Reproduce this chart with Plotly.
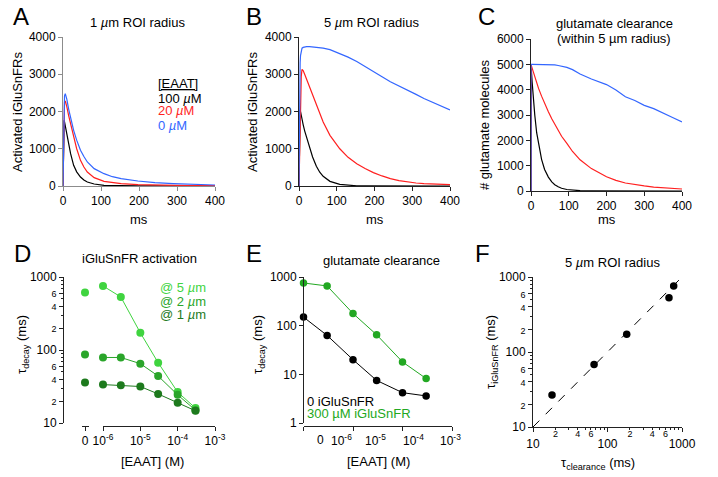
import plotly.graph_objects as go

W, H = 718, 477
def px(v): return v / W
def py(v): return 1 - v / H

FONT = 'Liberation Sans, Arial, Helvetica, sans-serif'
BLACK = '#000000'; RED = '#ff1f1f'; BLUE = '#3366ff'
G5 = '#3fd43f'; G2 = '#2aa52a'; G1 = '#1d7a1d'; GE = '#22a822'
AX_A = '#8c8c8c'; AX = '#222222'

# ---------------- data ----------------
# Panel A: 1 um ROI, activated iGluSnFRs vs time (ms)
T_A = [0, 1, 2, 3, 4, 6, 8, 10, 15, 20, 28, 36, 46, 55, 64, 82, 108, 130, 153, 197, 242, 290, 331, 400]
A_EAAT0 = [0, 900, 1800, 2250, 2420, 2480, 2420, 2330, 2060, 1820, 1495, 1230, 958, 790, 645, 466, 331, 250, 197, 134, 90, 65, 45, 27]
A_EAAT20 = [0, 800, 1600, 2100, 2250, 2283, 2220, 2130, 1880, 1650, 1316, 1000, 689, 510, 376, 224, 125, 90, 63, 35, 22, 15, 12, 8]
A_EAAT100 = [0, 1000, 1600, 1764, 1720, 1600, 1480, 1370, 1100, 868, 555, 380, 242, 160, 107, 54, 18, 10, 5, 2, 1, 0, 0, 0]

# Panel B: 5 um ROI
T_B = [0, 1, 2, 3, 4, 6, 8, 11, 15, 20, 28, 36, 46, 55, 64, 82, 108, 130, 153, 175, 197, 220, 242, 265, 286, 310, 331, 365, 400]
B_EAAT0 = [0, 2000, 2900, 3300, 3500, 3650, 3700, 3720, 3735, 3740, 3740, 3735, 3730, 3720, 3700, 3660, 3560, 3460, 3340, 3200, 3065, 2930, 2800, 2690, 2575, 2460, 2350, 2200, 2040]
B_EAAT20 = [0, 600, 1300, 2000, 2500, 2950, 3130, 3100, 3000, 2870, 2650, 2430, 2150, 1920, 1720, 1360, 1000, 770, 600, 470, 358, 270, 197, 145, 107, 80, 63, 48, 36]
B_EAAT100 = [0, 1200, 1900, 2050, 2000, 1880, 1780, 1650, 1480, 1300, 1020, 780, 530, 370, 260, 125, 42, 16, 6, 2, 1, 0, 0, 0, 0, 0, 0, 0, 0]

# Panel C: glutamate molecules within 5 um
T_C = [0, 0, 3, 6, 10, 15, 20, 28, 36, 46, 55, 63, 72, 81, 95, 110, 130, 160, 200, 225, 250, 275, 300, 325, 350, 375, 400]
C_EAAT0 = [0, 5000, 5000, 5000, 5000, 5000, 5000, 5000, 5000, 4995, 4990, 4980, 4955, 4930, 4880, 4790, 4620, 4420, 4200, 3990, 3720, 3570, 3380, 3250, 3060, 2900, 2730]
C_EAAT20 = [0, 5000, 4850, 4700, 4500, 4280, 4050, 3745, 3450, 3130, 2850, 2620, 2380, 2160, 1880, 1560, 1230, 884, 560, 420, 315, 250, 200, 155, 120, 98, 78]
C_EAAT100 = [0, 5000, 4300, 3700, 3000, 2300, 1850, 1250, 850, 550, 360, 250, 170, 110, 60, 30, 12, 4, 0, 0, 0, 0, 0, 0, 0, 0, 0]

# Panel D: iGluSnFR activation tau (ms) vs [EAAT] (M)
EAAT_D = [0, 1e-6, 3e-6, 1e-5, 3e-5, 1e-4, 3e-4]
TAU_D_5UM = [611, 754, 533, 172, 67, 26.5, 16]
TAU_D_2UM = [87, 79, 79, 65, 44, 24.3, 15]
TAU_D_1UM = [36, 33.6, 33, 31.6, 25, 19, 14.7]

# Panel E: glutamate clearance tau (ms) vs [EAAT] (M)
EAAT_E = [1e-6, 3e-6, 1e-5, 3e-5, 1e-4, 3e-4]
TAU_E_0 = [150, 63, 20, 7.5, 4.2, 3.6]
TAU_E_300 = [754, 655, 178, 65, 18, 8.2]

# Panel F
TAU_CLEAR = [18, 66, 181, 669, 773]
TAU_IGLU = [26.7, 68, 172, 529, 759]
IDENTITY = [10, 1000]

# tick labels
LIN_X = [0, 100, 200, 300, 400]
EAAT_TICKS = [1e-6, 1e-5, 1e-4, 1e-3]
EAAT_TEXT = ['10<sup>-6</sup>', '10<sup>-5</sup>', '10<sup>-4</sup>', '10<sup>-3</sup>']
LOG2_TICKS = [10, 20, 40, 60, 100, 200, 400, 600, 1000]
LOG2_MINOR = [30, 50, 70, 80, 90, 300, 500, 700, 800, 900]
def small(s): return '<span style="font-size:9px">%s</span>' % s
LOG2_TEXT = ['10', small('2'), small('4'), small('6'), '100', small('2'), small('4'), small('6'), '1000']

# ---------------- figure ----------------
fig = go.Figure()

def curve(x, y, color, xa, ya, width=1.2):
    fig.add_trace(go.Scatter(x=x, y=y, mode='lines', line=dict(color=color, width=width),
                             xaxis=xa, yaxis=ya, showlegend=False, hoverinfo='skip', cliponaxis=False))

def points(x, y, color, xa, ya, size=8, lines=True):
    fig.add_trace(go.Scatter(x=x, y=y, mode='lines+markers' if lines else 'markers',
                             line=dict(color=color, width=1), marker=dict(color=color, size=size),
                             xaxis=xa, yaxis=ya, showlegend=False, hoverinfo='skip', cliponaxis=False))

for ys, c in [(A_EAAT100, BLACK), (A_EAAT20, RED), (A_EAAT0, BLUE)]:
    curve(T_A, ys, c, 'x', 'y')
for ys, c in [(B_EAAT100, BLACK), (B_EAAT20, RED), (B_EAAT0, BLUE)]:
    curve(T_B, ys, c, 'x2', 'y2')
for ys, c in [(C_EAAT100, BLACK), (C_EAAT20, RED), (C_EAAT0, BLUE)]:
    curve(T_C, ys, c, 'x3', 'y3')

nz = [i for i, e in enumerate(EAAT_D) if e > 0]
z = [i for i, e in enumerate(EAAT_D) if e == 0]
for ys, c in [(TAU_D_5UM, G5), (TAU_D_2UM, G2), (TAU_D_1UM, G1)]:
    points([EAAT_D[i] for i in nz], [ys[i] for i in nz], c, 'x4', 'y4')
    points([EAAT_D[i] for i in z], [ys[i] for i in z], c, 'x7', 'y4', lines=False)

points(EAAT_E, TAU_E_0, BLACK, 'x5', 'y5', size=7.5)
points(EAAT_E, TAU_E_300, GE, 'x5', 'y5', size=7.5)

fig.add_trace(go.Scatter(x=IDENTITY, y=IDENTITY, mode='lines', line=dict(color='black', width=1, dash='dash'),
                         xaxis='x8', yaxis='y6', showlegend=False, hoverinfo='skip'))
points(TAU_CLEAR, TAU_IGLU, BLACK, 'x6', 'y6', size=7.5, lines=False)

def ax(**kw):
    d = dict(showgrid=False, zeroline=False, showline=True, linecolor=AX, linewidth=1,
             ticks='outside', ticklen=4, tickwidth=1, tickcolor=AX,
             tickfont=dict(family=FONT, size=12, color='black'), automargin=False, fixedrange=True)
    d.update(kw)
    return d

layout = dict(
    xaxis=ax(domain=[px(63), px(215)], range=[0, 400], tickvals=LIN_X, anchor='y', linecolor=AX_A, tickcolor=AX_A),
    yaxis=ax(domain=[py(186), py(37)], range=[0, 4000], tickvals=[0, 1000, 2000, 3000, 4000], anchor='x', linecolor=AX_A, tickcolor=AX_A),
    xaxis2=ax(domain=[px(299), px(450)], range=[0, 400], tickvals=LIN_X, anchor='y2'),
    yaxis2=ax(domain=[py(186), py(37)], range=[0, 4000], tickvals=[0, 1000, 2000, 3000, 4000], anchor='x2'),
    xaxis3=ax(domain=[px(531), px(682)], range=[0, 400], tickvals=LIN_X, anchor='y3'),
    yaxis3=ax(domain=[py(191), py(39)], range=[0, 6000], tickvals=[0, 1000, 2000, 3000, 4000, 5000, 6000], anchor='x3'),
    xaxis4=ax(type='log', domain=[px(103), px(215)], range=[-6, -3], tickvals=EAAT_TICKS, ticktext=EAAT_TEXT,
              anchor='free', position=py(426)),
    xaxis7=ax(domain=[px(81.5), px(88.5)], range=[-1, 1], tickvals=[0], ticktext=['0'], anchor='free', position=py(426)),
    yaxis4=ax(type='log', domain=[py(423), py(277)], range=[1, 3], tickvals=LOG2_TICKS, ticktext=LOG2_TEXT,
              anchor='free', position=px(63), minor=dict(tickvals=LOG2_MINOR, ticklen=2, ticks='outside', tickcolor=AX)),
    xaxis5=ax(type='log', domain=[px(303.5), px(452)], range=[-6, -3], tickvals=EAAT_TICKS, showticklabels=False,
              anchor='free', position=py(426)),
    yaxis5=ax(type='log', domain=[py(423), py(277)], range=[0, 3], tickvals=[1, 10, 100, 1000],
              anchor='free', position=px(303)),
    xaxis6=ax(type='log', domain=[px(533), px(682)], range=[1, 3], tickvals=[10, 100, 1000], ticktext=['10', '100', '1000'],
              anchor='y6', ticklabelstandoff=2,
              minor=dict(tickvals=[20, 30, 40, 50, 60, 70, 80, 90, 200, 300, 400, 500, 600, 700, 800, 900], ticklen=2, ticks='outside', tickcolor=AX)),
    xaxis8=ax(type='log', overlaying='x6', range=[1, 3], anchor='y6', showline=False, ticks='',
              tickvals=[20, 40, 60, 200, 400, 600], ticktext=['2', '4', '6', '2', '4', '6'],
              tickfont=dict(family=FONT, size=9, color='black')),
    yaxis6=ax(type='log', domain=[py(427), py(277)], range=[1, 3], tickvals=LOG2_TICKS, ticktext=LOG2_TEXT,
              anchor='x6', minor=dict(tickvals=LOG2_MINOR, ticklen=2, ticks='outside', tickcolor=AX)),
)

def txt(text, x, y, size=13, color='black', xanchor='center', yanchor='middle', angle=0):
    return dict(text=text, x=px(x), y=py(y), xref='paper', yref='paper', showarrow=False,
                font=dict(family=FONT, size=size, color=color), xanchor=xanchor, yanchor=yanchor,
                textangle=angle, borderpad=0)

ann = []
for letter, x, y in [('A', 21, 16.5), ('B', 254, 16.5), ('C', 486, 16.5), ('D', 22, 253), ('E', 253.5, 253), ('F', 482.5, 253)]:
    ann.append(txt(letter, x, y, size=24))
ann += [
    txt('1 <i>µ</i>m ROI radius', 137, 22.5),
    txt('5 <i>µ</i>m ROI radius', 372, 22.5),
    txt('glutamate clearance', 614, 24),
    txt('(within 5 µm radius)', 614, 39),
    txt('iGluSnFR activation', 139, 258),
    txt('glutamate clearance', 381, 260),
    txt('5 <i>µ</i>m ROI radius', 612, 262),
    txt('Activated iGluSnFRs', 18, 112, angle=-90),
    txt('Activated iGluSnFRs', 253, 112, angle=-90),
    txt('# glutamate molecules', 484, 125, angle=-90),
    txt('τ<sub>decay</sub> (ms)', 22, 345, angle=-90),
    txt('τ<sub>decay</sub> (ms)', 258, 345, angle=-90),
    txt('τ<sub>iGluSnFR</sub> (ms)', 491, 352, angle=-90),
    txt('ms', 139, 219), txt('ms', 374.5, 219), txt('ms', 606.5, 219),
    txt('[EAAT] (M)', 152, 461), txt('[EAAT] (M)', 378, 461),
    txt('τ<sub>clearance</sub> (ms)', 598, 463),
    # legend A
    txt('<u>[EAAT]</u>', 157, 84, xanchor='left'),
    txt('100 <i>µ</i>M', 157, 98, xanchor='left'),
    txt('20 <i>µ</i>M', 157, 111, color=RED, xanchor='left'),
    txt('0 <i>µ</i>M', 157, 125, color=BLUE, xanchor='left'),
    # legend D
    txt('@ 5 <i>µ</i>m', 207, 287.5, color=G5, xanchor='right'),
    txt('@ 2 <i>µ</i>m', 207, 301, color=G2, xanchor='right'),
    txt('@ 1 <i>µ</i>m', 207, 314, color=G1, xanchor='right'),
    # legend E
    txt('0 iGluSnFR', 306, 401, xanchor='left'),
    txt('300 µM iGluSnFR', 306, 413.5, color=GE, xanchor='left'),
]
# panel E x tick labels (placed as in the original figure)
for label, x in zip(['0'] + EAAT_TEXT, [320, 341.7, 375, 413.3, 450]):
    ann.append(txt(label, x, 440, size=12))

fig.update_layout(**layout)
fig.update_layout(annotations=ann, width=W, height=H, autosize=False, template='none',
                  margin=dict(l=0, r=0, t=0, b=0), paper_bgcolor='white', plot_bgcolor='rgba(0,0,0,0)',
                  showlegend=False, font=dict(family=FONT, size=12, color='black'))
fig.write_html('out.html', config={'displayModeBar': False, 'staticPlot': True},
               post_script="document.body.style.margin='0';document.body.style.overflow='hidden';")
